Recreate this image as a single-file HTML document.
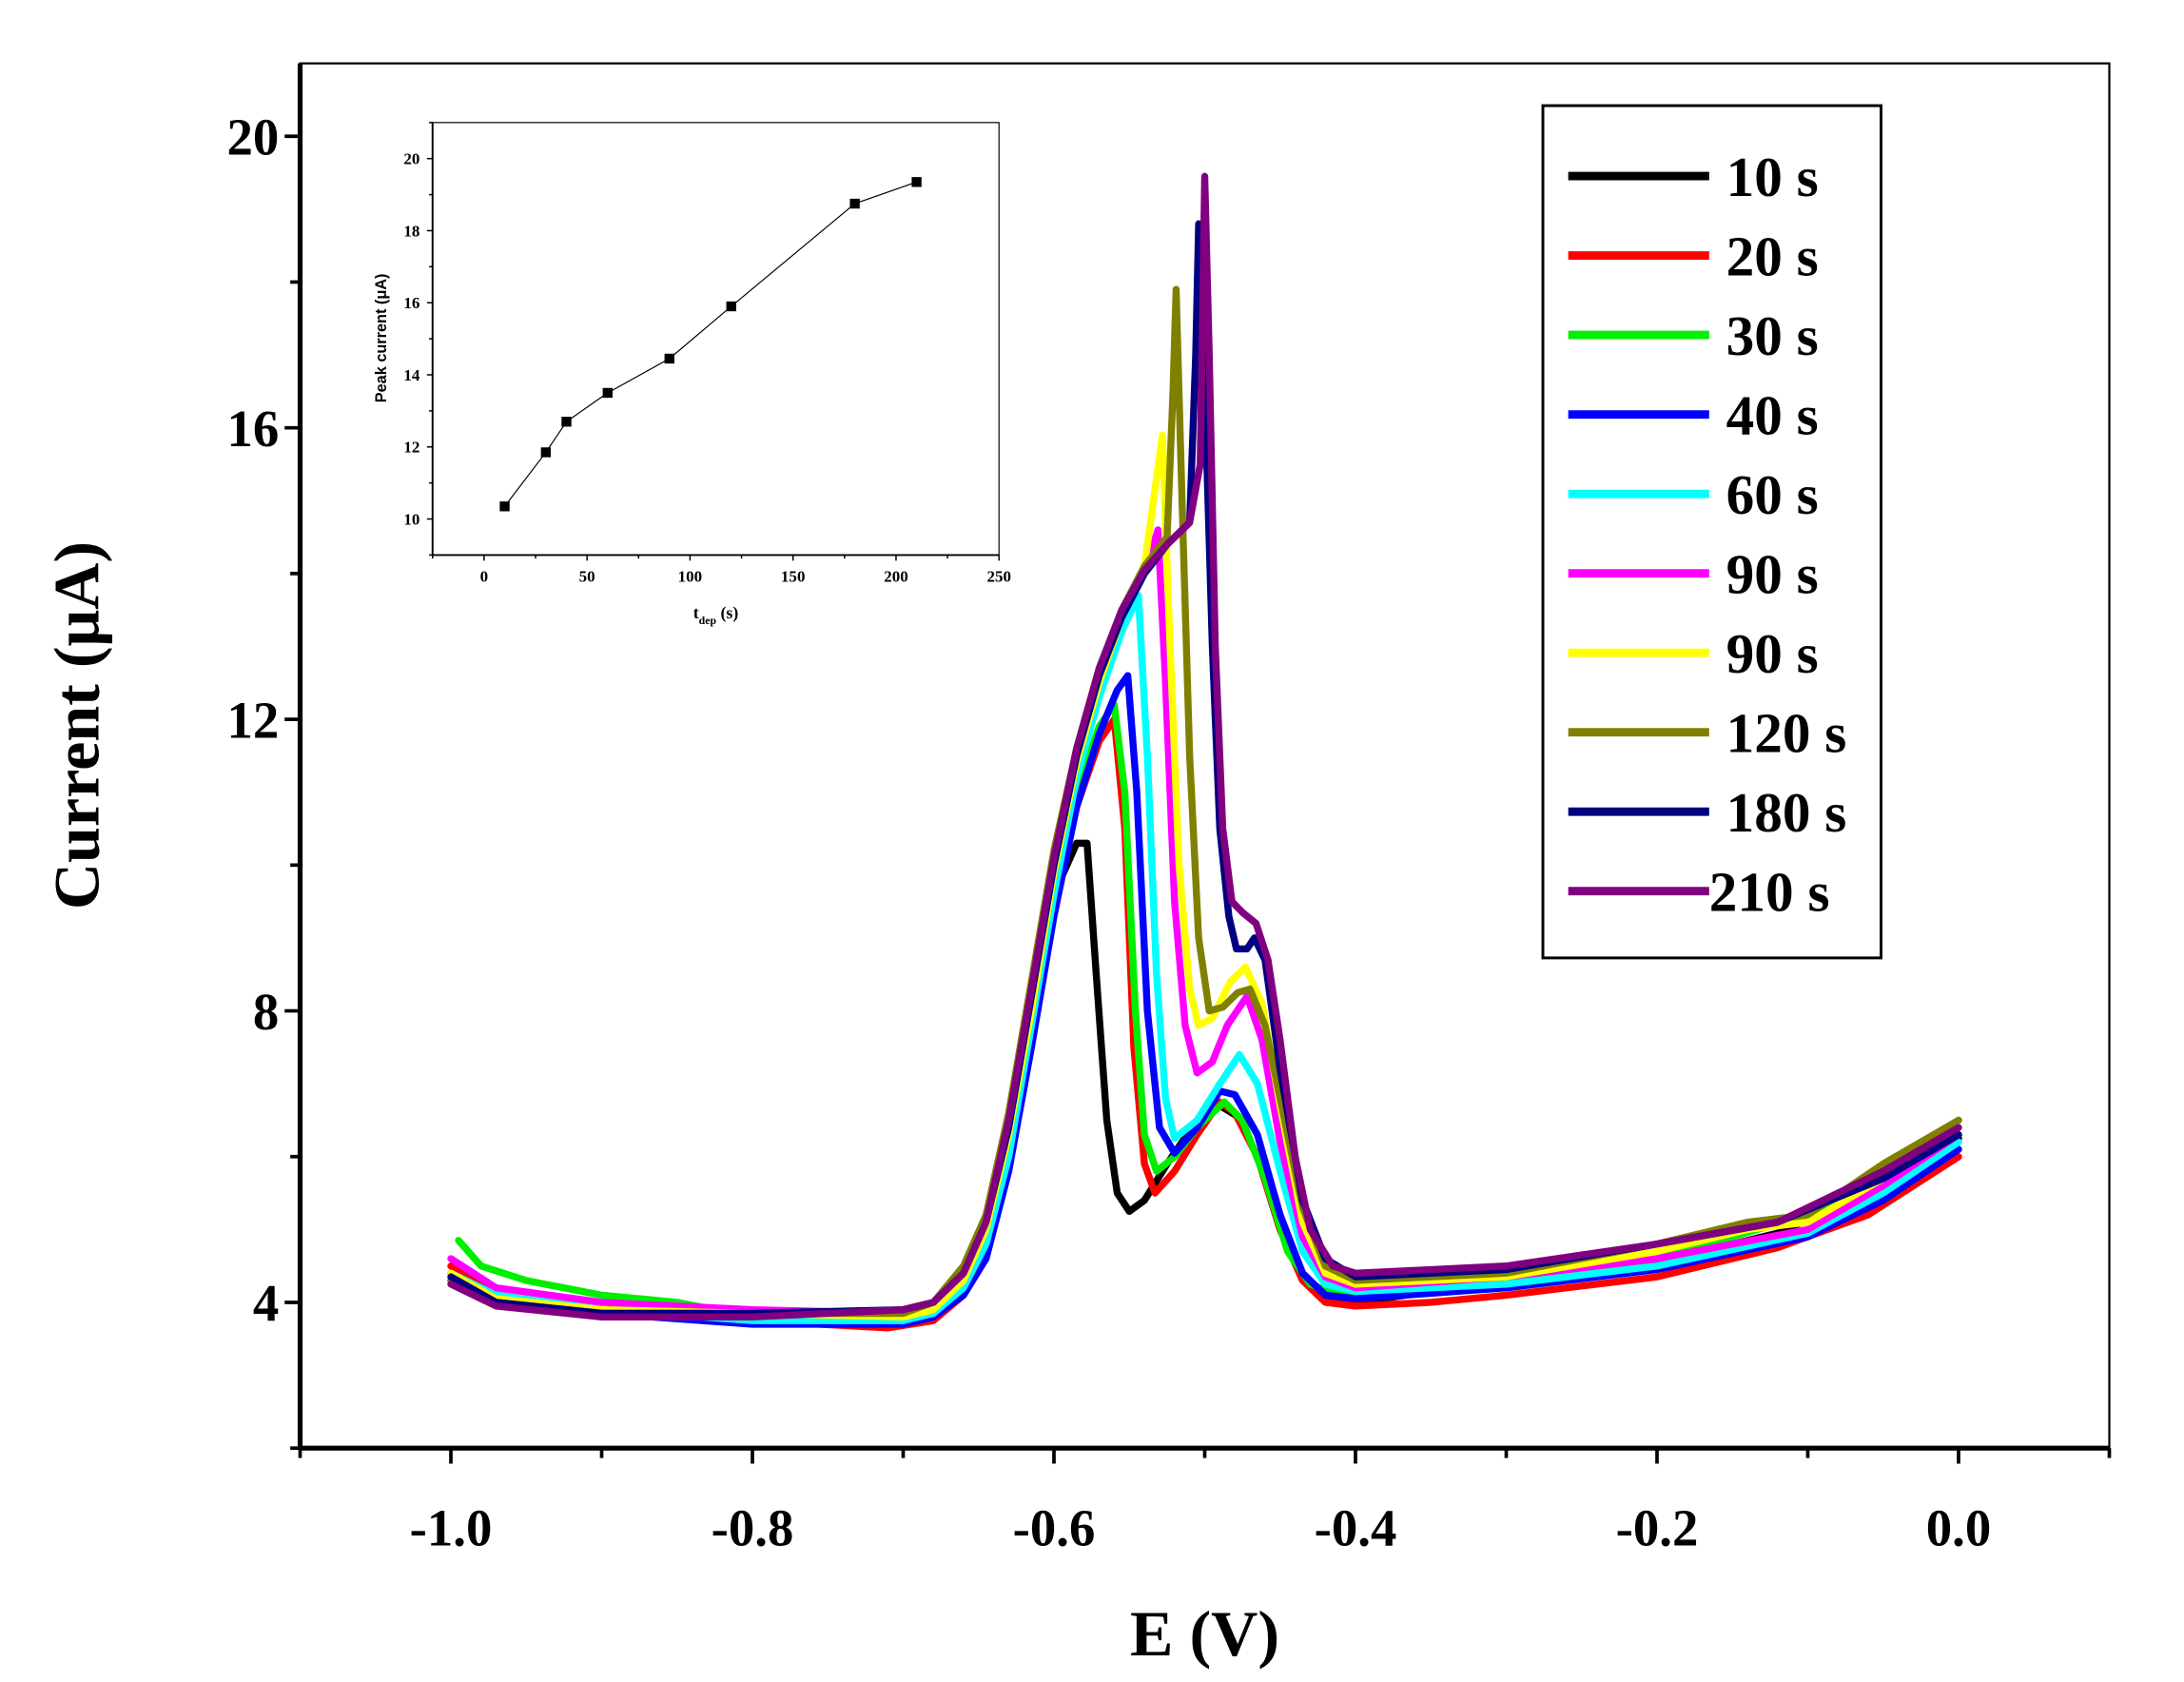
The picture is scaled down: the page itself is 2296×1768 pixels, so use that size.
<!DOCTYPE html>
<html><head><meta charset="utf-8"><style>
html,body{margin:0;padding:0;background:#fff;}
svg{display:block;}
text{font-family:"Liberation Serif",serif;font-weight:bold;fill:#000;}
</style></head><body>
<svg id="chart" width="2296" height="1768" viewBox="0 0 1550 1194" preserveAspectRatio="none" xmlns="http://www.w3.org/2000/svg">
<rect x="0" y="0" width="1550" height="1194" fill="#fff"/>
<g id="main"></g>
<g id="inset"></g>
<g id="legend"></g>
</svg>
<script>
const NS="http://www.w3.org/2000/svg";
const seriesNames=["10 s","20 s","30 s","40 s","60 s","90 s","90 s","120 s","180 s","210 s"];
const seriesColors=["#000000","#ff0000","#00ee00","#0000ff","#00ffff","#ff00ff","#ffff00","#808000","#000080","#800080"];
const s10=[[-1,4.3],[-0.98,4.05],[-0.95,4.0],[-0.9,3.9],[-0.8,3.85],[-0.7,3.8],[-0.68,3.9],[-0.66,4.3],[-0.645,5.0],[-0.63,6.3],[-0.615,8.0],[-0.6,9.6],[-0.585,10.3],[-0.578,10.3],[-0.572,8.5],[-0.565,6.5],[-0.558,5.5],[-0.55,5.25],[-0.54,5.4],[-0.525,5.9],[-0.505,6.5],[-0.49,6.7],[-0.478,6.55],[-0.465,6.0],[-0.45,5.0],[-0.435,4.3],[-0.42,4.05],[-0.4,4.0],[-0.35,4.15],[-0.3,4.3],[-0.2,4.55],[-0.12,4.95],[-0.06,5.5],[0,6.25]];
const s20=[[-1,4.5],[-0.97,4.1],[-0.9,3.9],[-0.8,3.75],[-0.71,3.65],[-0.68,3.75],[-0.66,4.1],[-0.645,4.7],[-0.63,5.9],[-0.615,7.6],[-0.6,9.4],[-0.585,10.8],[-0.57,11.7],[-0.56,12.0],[-0.553,10.5],[-0.547,7.5],[-0.54,5.9],[-0.533,5.5],[-0.52,5.8],[-0.505,6.3],[-0.49,6.75],[-0.48,6.6],[-0.465,6.0],[-0.45,5.0],[-0.435,4.3],[-0.42,4.0],[-0.4,3.95],[-0.35,4.0],[-0.3,4.1],[-0.2,4.35],[-0.12,4.75],[-0.06,5.2],[0,6.0]];
const s30=[[-0.995,4.85],[-0.98,4.5],[-0.95,4.3],[-0.9,4.1],[-0.85,4.0],[-0.8,3.8],[-0.7,3.75],[-0.68,3.85],[-0.66,4.2],[-0.645,4.8],[-0.63,6.1],[-0.615,7.8],[-0.6,9.6],[-0.585,11.0],[-0.57,11.9],[-0.56,12.2],[-0.553,11.0],[-0.546,8.0],[-0.54,6.3],[-0.532,5.8],[-0.52,6.0],[-0.505,6.4],[-0.487,6.75],[-0.475,6.5],[-0.46,5.7],[-0.445,4.7],[-0.43,4.25],[-0.41,4.1],[-0.4,4.1],[-0.3,4.3],[-0.2,4.6],[-0.1,5.2],[-0.05,5.7],[0,6.5]];
const s40=[[-1,4.4],[-0.97,4.0],[-0.9,3.85],[-0.8,3.7],[-0.7,3.7],[-0.68,3.8],[-0.66,4.1],[-0.645,4.6],[-0.63,5.8],[-0.615,7.5],[-0.6,9.3],[-0.585,10.8],[-0.57,11.8],[-0.558,12.4],[-0.551,12.6],[-0.545,11.0],[-0.538,8.0],[-0.53,6.4],[-0.52,6.05],[-0.505,6.4],[-0.49,6.9],[-0.48,6.85],[-0.465,6.3],[-0.45,5.2],[-0.435,4.4],[-0.42,4.1],[-0.4,4.05],[-0.3,4.2],[-0.2,4.45],[-0.1,4.9],[-0.05,5.4],[0,6.1]];
const s60=[[-1,4.4],[-0.97,4.1],[-0.9,3.9],[-0.8,3.75],[-0.7,3.75],[-0.68,3.85],[-0.66,4.2],[-0.645,4.8],[-0.63,6.0],[-0.615,7.8],[-0.6,9.6],[-0.585,11.2],[-0.57,12.3],[-0.555,13.2],[-0.544,13.7],[-0.538,11.5],[-0.532,8.5],[-0.526,6.8],[-0.52,6.25],[-0.505,6.5],[-0.49,7.0],[-0.477,7.4],[-0.465,7.0],[-0.45,5.8],[-0.435,4.7],[-0.42,4.25],[-0.4,4.15],[-0.3,4.25],[-0.2,4.5],[-0.1,4.95],[-0.05,5.5],[0,6.2]];
const s90a=[[-1,4.6],[-0.97,4.2],[-0.9,4.0],[-0.8,3.9],[-0.7,3.85],[-0.68,3.95],[-0.66,4.3],[-0.645,5.0],[-0.63,6.3],[-0.615,8.0],[-0.6,9.9],[-0.585,11.4],[-0.57,12.5],[-0.555,13.4],[-0.54,14.0],[-0.531,14.6],[-0.526,12.5],[-0.52,9.5],[-0.513,7.8],[-0.505,7.15],[-0.495,7.3],[-0.485,7.8],[-0.472,8.2],[-0.462,7.6],[-0.45,6.2],[-0.435,4.9],[-0.42,4.35],[-0.4,4.2],[-0.3,4.35],[-0.2,4.6],[-0.1,5.0],[-0.05,5.6],[0,6.3]];
const s90b=[[-1,4.4],[-0.97,4.05],[-0.9,3.9],[-0.8,3.85],[-0.7,3.8],[-0.68,3.9],[-0.66,4.3],[-0.645,5.0],[-0.63,6.3],[-0.615,8.0],[-0.6,9.9],[-0.585,11.4],[-0.57,12.5],[-0.555,13.4],[-0.54,14.1],[-0.534,15.0],[-0.528,15.9],[-0.523,13.0],[-0.517,10.0],[-0.51,8.3],[-0.504,7.8],[-0.495,7.9],[-0.483,8.4],[-0.473,8.6],[-0.462,8.1],[-0.45,6.7],[-0.435,5.1],[-0.42,4.4],[-0.4,4.25],[-0.3,4.35],[-0.2,4.7],[-0.14,5.0],[-0.1,5.1],[-0.05,5.7],[0,6.4]];
const s120=[[-1,4.3],[-0.97,4.0],[-0.9,3.85],[-0.8,3.85],[-0.7,3.85],[-0.68,4.0],[-0.66,4.5],[-0.645,5.2],[-0.63,6.6],[-0.615,8.4],[-0.6,10.2],[-0.585,11.6],[-0.57,12.7],[-0.555,13.5],[-0.54,14.1],[-0.525,14.5],[-0.521,16.5],[-0.519,17.9],[-0.515,15.0],[-0.51,11.5],[-0.504,9.0],[-0.497,8.0],[-0.488,8.05],[-0.478,8.25],[-0.47,8.3],[-0.46,7.8],[-0.45,6.8],[-0.435,5.3],[-0.42,4.5],[-0.4,4.3],[-0.3,4.4],[-0.2,4.8],[-0.14,5.1],[-0.1,5.2],[-0.05,5.9],[0,6.5]];
const s180=[[-1,4.35],[-0.97,4.0],[-0.9,3.85],[-0.8,3.85],[-0.7,3.9],[-0.68,4.0],[-0.66,4.4],[-0.645,5.1],[-0.63,6.4],[-0.615,8.2],[-0.6,10.0],[-0.585,11.5],[-0.57,12.6],[-0.555,13.4],[-0.54,14.0],[-0.525,14.4],[-0.51,14.7],[-0.506,17.0],[-0.504,18.8],[-0.5,16.5],[-0.495,13.0],[-0.49,10.5],[-0.484,9.3],[-0.479,8.85],[-0.472,8.85],[-0.467,9.0],[-0.46,8.7],[-0.45,7.2],[-0.435,5.4],[-0.42,4.6],[-0.4,4.35],[-0.3,4.45],[-0.2,4.8],[-0.12,5.1],[-0.05,5.7],[0,6.3]];
const s210=[[-1,4.25],[-0.97,3.95],[-0.9,3.8],[-0.8,3.8],[-0.7,3.9],[-0.68,4.0],[-0.66,4.4],[-0.645,5.1],[-0.63,6.5],[-0.615,8.3],[-0.6,10.1],[-0.585,11.6],[-0.57,12.7],[-0.555,13.5],[-0.54,14.05],[-0.525,14.4],[-0.51,14.7],[-0.503,15.5],[-0.5,19.45],[-0.497,17.0],[-0.493,13.0],[-0.488,10.5],[-0.482,9.5],[-0.475,9.35],[-0.466,9.2],[-0.458,8.7],[-0.45,7.6],[-0.44,6.0],[-0.43,5.0],[-0.415,4.5],[-0.4,4.4],[-0.3,4.5],[-0.2,4.8],[-0.12,5.1],[-0.05,5.8],[0,6.4]];
const seriesData=[s10,s20,s30,s40,s60,s90a,s90b,s120,s180,s210];
const xTicks=[-1.0,-0.8,-0.6,-0.4,-0.2,0.0];
const xTickLabels=["-1.0","-0.8","-0.6","-0.4","-0.2","0.0"];
const yTicks=[4,8,12,16,20];
const yTickLabels=["4","8","12","16","20"];
const insetX=[10,30,40,60,90,120,180,210];
const insetY=[10.35,11.85,12.7,13.5,14.45,15.9,18.75,19.35];
const insetXTicks=[0,50,100,150,200,250];
const insetYTicks=[10,12,14,16,18,20];

function el(tag,attrs,parent,txt){const e=document.createElementNS(NS,tag);for(const k in attrs)e.setAttribute(k,attrs[k]);if(txt!==undefined)e.textContent=txt;parent.appendChild(e);return e;}

// main axes
const L=213,R=1497,T=45,B=1028;
const xs=v=>L+(v-(-1.1))/(0.1-(-1.1))*(R-L);
const ys=v=>B-(v-2)/(21-2)*(B-T);
const main=document.getElementById('main');
const frame=el('rect',{x:L,y:T,width:R-L,height:B-T,fill:'none',stroke:'#000','stroke-width':1.5},main);


const xa=el('line',{x1:L,y1:B,x2:R,y2:B,stroke:'#000','stroke-width':3.5},main);


const ya=el('line',{x1:L,y1:T,x2:L,y2:B,stroke:'#000','stroke-width':3.5},main);


for(let v=-1.1;v<=0.1001;v+=0.1){const major=xTicks.some(t=>Math.abs(t-v)<1e-6);el('line',{x1:xs(v),y1:B,x2:xs(v),y2:B+(major?11:7),stroke:'#000','stroke-width':2.5},main);}
for(let v=2;v<=21;v+=2){const major=yTicks.includes(v);el('line',{x1:L,y1:ys(v),x2:L-(major?11:7),y2:ys(v),stroke:'#000','stroke-width':2.5},main);}
xTicks.forEach((v,i)=>{const t=el('text',{x:xs(v),y:1097,'text-anchor':'middle','font-size':37},main,xTickLabels[i]);

});
yTicks.forEach((v,i)=>{const t=el('text',{x:198,y:ys(v)+13,'text-anchor':'end','font-size':37},main,yTickLabels[i]);

});
const xt=el('text',{x:855,y:1175,'text-anchor':'middle','font-size':46},main,'E (V)');


const yt=el('text',{x:0,y:0,'text-anchor':'middle','font-size':46,transform:'translate(70,515) rotate(-90)'},main,'Current (μA)');


seriesData.forEach((d,i)=>{const p=el('polyline',{points:d.map(q=>xs(q[0]).toFixed(1)+','+ys(q[1]).toFixed(1)).join(' '),fill:'none',stroke:seriesColors[i],'stroke-width':5,'stroke-linejoin':'round','stroke-linecap':'round'},main);

});

// legend
const lg=document.getElementById('legend');
const lbox=el('rect',{x:1095,y:75,width:240,height:605,fill:'#fff',stroke:'#000','stroke-width':2},lg);


seriesNames.forEach((n,i)=>{const y=125+i*56.4;
const g=el('g',{},lg);


el('line',{x1:1113,y1:y,x2:1213,y2:y,stroke:seriesColors[i],'stroke-width':6},g);
el('text',{x:i===9?1213:1225,y:y+14,'font-size':40},g,n);});

// inset
const iL=307,iR=709,iT=87,iB=394;
const ixs=v=>iL+(v+25)/275*(iR-iL);
const iys=v=>iB-(v-9)/12*(iB-iT);
const ins=document.getElementById('inset');
const ib=el('rect',{x:iL,y:iT,width:iR-iL,height:iB-iT,fill:'#fff',stroke:'#000','stroke-width':0.8},ins);


el('line',{x1:iL,y1:iB,x2:iR,y2:iB,stroke:'#000','stroke-width':1.3},ins);
el('line',{x1:iL,y1:iT,x2:iL,y2:iB,stroke:'#000','stroke-width':1.3},ins);
for(let v=-25;v<=250;v+=25)el('line',{x1:ixs(v),y1:iB,x2:ixs(v),y2:iB+(v%50===0?4:2.5),stroke:'#000','stroke-width':1},ins);
for(let v=9;v<=21;v+=1)el('line',{x1:iL,y1:iys(v),x2:iL-(v%2===0?4:2.5),y2:iys(v),stroke:'#000','stroke-width':1},ins);
insetXTicks.forEach(v=>{const t=el('text',{x:ixs(v),y:iB+19,'text-anchor':'middle','font-size':11.5},ins,String(v));

});
insetYTicks.forEach(v=>{const t=el('text',{x:iL-9,y:iys(v)+4,'text-anchor':'end','font-size':11.5},ins,String(v));

});
const ixt=el('text',{x:508,y:439,'text-anchor':'middle','font-size':12},ins);


ixt.innerHTML='t<tspan font-size="8" dy="4">dep</tspan><tspan dy="-4"> (s)</tspan>';
const iyt=el('text',{x:0,y:0,'text-anchor':'middle','font-size':11,style:'font-family:"Liberation Sans",sans-serif',transform:'translate(274,240) rotate(-90)'},ins,'Peak current (μA)');


const il=el('polyline',{points:insetX.map((v,i)=>ixs(v)+','+iys(insetY[i])).join(' '),fill:'none',stroke:'#000','stroke-width':0.8},ins);


insetX.forEach((v,i)=>{const r=el('rect',{x:ixs(v)-3.5,y:iys(insetY[i])-3.5,width:7,height:7,fill:'#000'},ins);

});
</script>
</body></html>
